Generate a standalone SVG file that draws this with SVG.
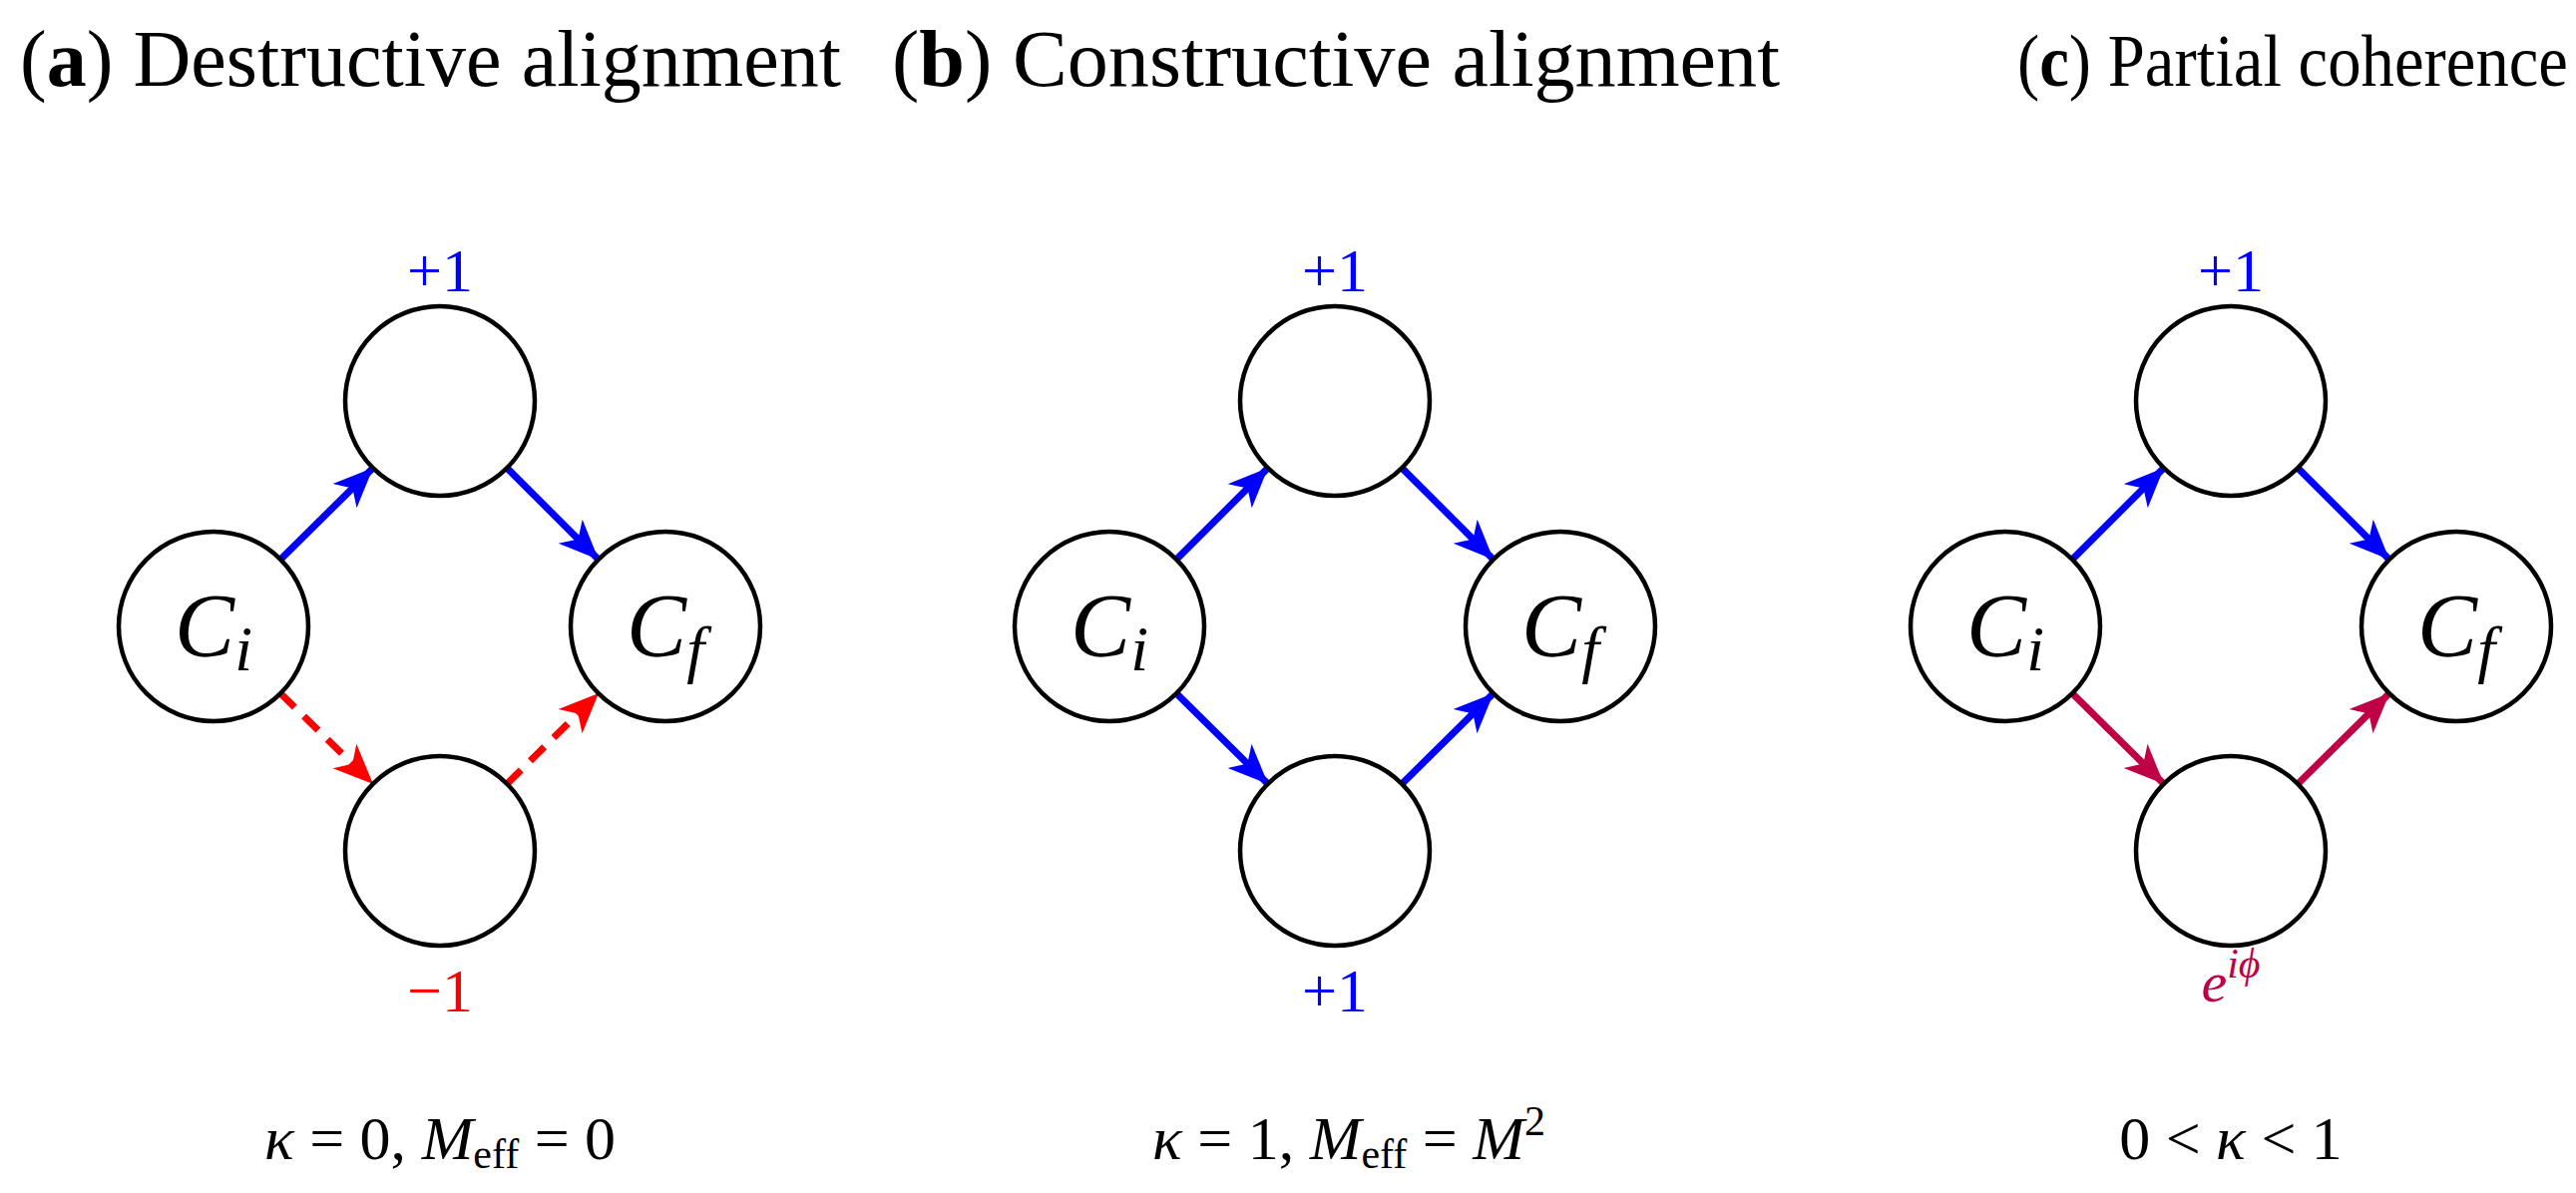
<svg xmlns="http://www.w3.org/2000/svg" width="2582" height="1196" viewBox="0 0 2582 1196">
<style>
text{font-family:"Liberation Serif","DejaVu Serif",serif;fill:#000}
.title{font-size:80px}
.node{fill:#fff;stroke:#000;stroke-width:4.5}
.ci{font-size:90px;font-style:italic}
.lab{font-size:62px}
.eq{font-size:62px}
.it{font-style:italic}
.b{stroke:#0000ff;stroke-width:7;fill:none}
.r{stroke:#ff0000;stroke-width:7;fill:none;stroke-dasharray:20 13}
.p{stroke:#c00045;stroke-width:7;fill:none}
</style>
<defs>
<marker id="ab" markerUnits="userSpaceOnUse" viewBox="-42 -20 44 40" refX="0" refY="0" markerWidth="44" markerHeight="40" orient="auto"><path d="M0,0 L-40,-17 L-29,0 L-40,17 Z" fill="#0000ff"/></marker>
<marker id="ar" markerUnits="userSpaceOnUse" viewBox="-42 -20 44 40" refX="0" refY="0" markerWidth="44" markerHeight="40" orient="auto"><path d="M0,0 L-40,-17 L-29,0 L-40,17 Z" fill="#ff0000"/></marker>
<marker id="ap" markerUnits="userSpaceOnUse" viewBox="-42 -20 44 40" refX="0" refY="0" markerWidth="44" markerHeight="40" orient="auto"><path d="M0,0 L-40,-17 L-29,0 L-40,17 Z" fill="#c00045"/></marker>
</defs>
<g id="titles">
<text class="title" x="20" y="86" textLength="823" lengthAdjust="spacingAndGlyphs">(<tspan font-weight="bold">a</tspan>) Destructive alignment</text>
<text class="title" x="894" y="86" textLength="890" lengthAdjust="spacingAndGlyphs">(<tspan font-weight="bold">b</tspan>) Constructive alignment</text>
<text x="2022" y="86" font-size="74" textLength="552" lengthAdjust="spacingAndGlyphs">(<tspan font-weight="bold">c</tspan>) Partial coherence</text>
</g>
<g id="connectors">
<line class="b" x1="281" y1="561" x2="374" y2="469" marker-end="url(#ab)"/>
<line class="b" x1="508" y1="469" x2="600" y2="561" marker-end="url(#ab)"/>
<line class="r" x1="281" y1="695" x2="374" y2="786" marker-end="url(#ar)"/>
<line class="r" x1="508" y1="786" x2="600" y2="695" marker-end="url(#ar)"/>
<line class="b" x1="1179" y1="561" x2="1271" y2="469" marker-end="url(#ab)"/>
<line class="b" x1="1405" y1="469" x2="1497" y2="561" marker-end="url(#ab)"/>
<line class="b" x1="1179" y1="695" x2="1271" y2="786" marker-end="url(#ab)"/>
<line class="b" x1="1405" y1="786" x2="1497" y2="695" marker-end="url(#ab)"/>
<line class="b" x1="2077" y1="561" x2="2169" y2="469" marker-end="url(#ab)"/>
<line class="b" x1="2303" y1="469" x2="2395" y2="561" marker-end="url(#ab)"/>
<line class="p" x1="2077" y1="695" x2="2169" y2="786" marker-end="url(#ap)"/>
<line class="p" x1="2303" y1="786" x2="2395" y2="695" marker-end="url(#ap)"/>
</g>
<g id="a-ci"><circle class="node" cx="214" cy="628" r="95"/><text class="ci" x="214" y="658" text-anchor="middle">C<tspan font-size="64" dy="14">i</tspan></text></g>
<g id="a-top"><circle class="node" cx="441" cy="402" r="95"/><text class="lab" x="441" y="292" text-anchor="middle" style="fill:#0000ff">+1</text></g>
<g id="a-cf"><circle class="node" cx="667" cy="628" r="95"/><text class="ci" x="667" y="658" text-anchor="middle">C<tspan font-size="64" dy="14">f</tspan></text></g>
<g id="a-bot"><circle class="node" cx="441" cy="853" r="95"/><text class="lab" x="441" y="1014" text-anchor="middle" style="fill:#ff0000">−1</text></g>
<g id="b-ci"><circle class="node" cx="1112" cy="628" r="95"/><text class="ci" x="1112" y="658" text-anchor="middle">C<tspan font-size="64" dy="14">i</tspan></text></g>
<g id="b-top"><circle class="node" cx="1338" cy="402" r="95"/><text class="lab" x="1338" y="292" text-anchor="middle" style="fill:#0000ff">+1</text></g>
<g id="b-cf"><circle class="node" cx="1564" cy="628" r="95"/><text class="ci" x="1564" y="658" text-anchor="middle">C<tspan font-size="64" dy="14">f</tspan></text></g>
<g id="b-bot"><circle class="node" cx="1338" cy="853" r="95"/><text class="lab" x="1338" y="1014" text-anchor="middle" style="fill:#0000ff">+1</text></g>
<g id="c-ci"><circle class="node" cx="2010" cy="628" r="95"/><text class="ci" x="2010" y="658" text-anchor="middle">C<tspan font-size="64" dy="14">i</tspan></text></g>
<g id="c-top"><circle class="node" cx="2236" cy="402" r="95"/><text class="lab" x="2236" y="292" text-anchor="middle" style="fill:#0000ff">+1</text></g>
<g id="c-cf"><circle class="node" cx="2462" cy="628" r="95"/><text class="ci" x="2462" y="658" text-anchor="middle">C<tspan font-size="64" dy="14">f</tspan></text></g>
<g id="c-bot"><circle class="node" cx="2236" cy="853" r="95"/><text x="2236" y="1004" text-anchor="middle" font-size="58" font-style="italic" style="fill:#c00045">e<tspan font-size="42" dy="-24">iϕ</tspan></text></g>
<g id="captions">
<text class="eq" x="441" y="1162" text-anchor="middle"><tspan class="it">κ</tspan> = 0,  <tspan class="it">M</tspan><tspan font-size="42" dy="9">eff</tspan><tspan dy="-9"> = 0</tspan></text>
<text class="eq" x="1352" y="1162" text-anchor="middle"><tspan class="it">κ</tspan> = 1,  <tspan class="it">M</tspan><tspan font-size="42" dy="9">eff</tspan><tspan dy="-9"> = </tspan><tspan class="it">M</tspan><tspan font-size="42" dy="-24">2</tspan></text>
<text class="eq" x="2236" y="1162" text-anchor="middle">0 &lt; <tspan class="it">κ</tspan> &lt; 1</text>
</g>
</svg>
